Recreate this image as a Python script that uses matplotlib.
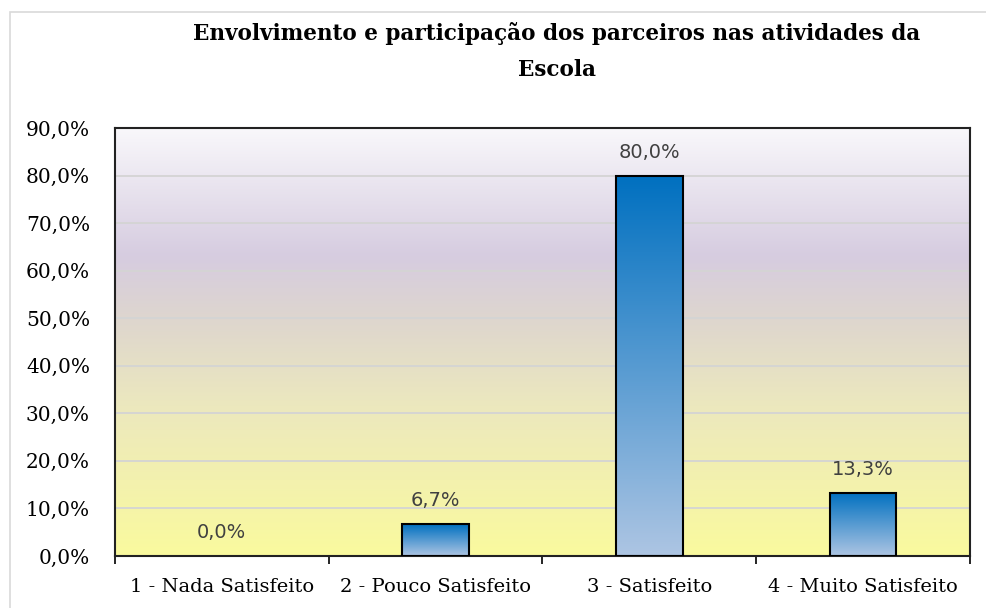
import numpy as np
import matplotlib.pyplot as plt
from matplotlib.colors import LinearSegmentedColormap
from matplotlib.patches import Rectangle
from matplotlib.ticker import FuncFormatter, FixedLocator

# dados
categorias = ['1 - Nada Satisfeito', '2 - Pouco Satisfeito', '3 - Satisfeito', '4 - Muito Satisfeito']
valores = [0.0, 6.7, 80.0, 13.3]
titulo = 'Envolvimento e participação dos parceiros nas atividades da\nEscola'

fig = plt.figure(figsize=(9.86, 6.08), dpi=100)
ax = fig.add_axes([0.1166, 0.0855, 0.8672, 0.704])

# borda externa do gráfico
fig.patches.append(Rectangle((10 / 986, -0.05), 1.0, 1 - 12 / 608 + 0.05, transform=fig.transFigure,
                             fill=False, edgecolor='#D9D9D9', linewidth=1.2))

# fundo em degradê (amarelo -> lilás -> branco)
fundo = LinearSegmentedColormap.from_list('fundo', [
    (0.0, (250/255, 250/255, 158/255)),
    (0.35, (236/255, 232/255, 190/255)),
    (0.55, (222/255, 214/255, 206/255)),
    (0.70, (214/255, 204/255, 224/255)),
    (1.0, (249/255, 248/255, 251/255)),
])
grad = np.linspace(0, 1, 256).reshape(-1, 1)
ax.imshow(grad, aspect='auto', cmap=fundo, origin='lower',
          extent=[-0.5, 3.5, 0, 90], zorder=0)

ax.set_xlim(-0.5, 3.5)
ax.set_ylim(0, 90)

# linhas de grade
for y in range(10, 90, 10):
    ax.axhline(y, color='#D4D4D4', linewidth=1.3, zorder=1)

# barras com degradê azul
barra = LinearSegmentedColormap.from_list('barra', ['#ADC5E3', '#0070C0'])
largura = 0.31
for i, v in enumerate(valores):
    if v > 0:
        ax.imshow(grad, aspect='auto', cmap=barra, origin='lower',
                  extent=[i - largura / 2, i + largura / 2, 0, v], zorder=2)
        ax.add_patch(Rectangle((i - largura / 2, 0), largura, v, fill=False,
                               edgecolor='black', linewidth=1.5, zorder=3))
    ax.annotate(f'{v:.1f}%'.replace('.', ','), (i, v), xytext=(0, 10),
                textcoords='offset points', ha='center', va='bottom',
                fontsize=14, color='#404040', family='DejaVu Sans')

# eixos
ax.yaxis.set_major_locator(FixedLocator(np.arange(0, 91, 10)))
ax.yaxis.set_major_formatter(FuncFormatter(lambda y, p: f'{y:.1f}%'.replace('.', ',')))
ax.tick_params(axis='y', length=0, pad=18, labelsize=14.5)
ax.set_xticks([-0.5, 0.5, 1.5, 2.5, 3.5])
ax.set_xticklabels([])
ax.set_xticks(range(4), minor=True)
ax.set_xticklabels(categorias, minor=True)
ax.tick_params(axis='x', which='major', length=6, width=1.2, direction='out')
ax.tick_params(axis='x', which='minor', length=0, pad=16, labelsize=14)
for lbl in ax.get_yticklabels() + ax.get_xticklabels(minor=True):
    lbl.set_family('DejaVu Serif')
for s in ax.spines.values():
    s.set_color('#222222')
    s.set_linewidth(1.5)

fig.text(0.565, 1 - 22 / 608, titulo, ha='center', va='top', fontsize=15.5,
         fontweight='bold', family='DejaVu Serif', linespacing=1.8)

fig.savefig('out.png', dpi=100)
